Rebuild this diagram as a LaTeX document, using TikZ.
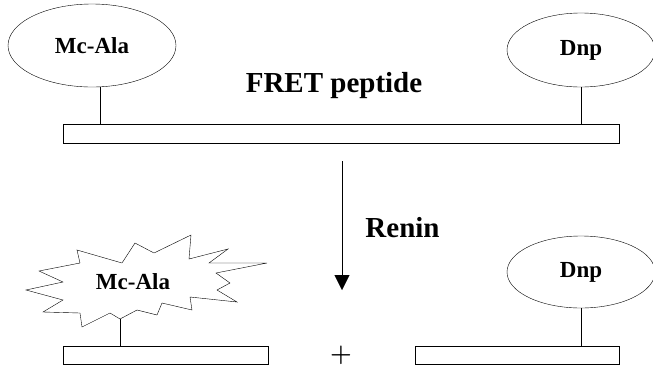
\documentclass[tikz,border=0pt]{standalone}
\usepackage{fontspec}
\setmainfont{Liberation Serif}
\usepackage{tikz}
\usetikzlibrary{shapes.geometric,arrows.meta}
\tikzset{x=1pt, y=-1pt, line width=1.2pt,
  txt/.style={font=\fontsize{23}{23}\selectfont\bfseries},
  group/.style={txt, draw, ellipse, inner sep=0pt},
  chain/.style={draw, rectangle, inner sep=0pt},
  title/.style={font=\fontsize{29}{29}\selectfont\bfseries, anchor=base}}

\begin{document}
\begin{tikzpicture}
                \useasboundingbox (0,0) rectangle (653,365);
                % intact peptide
                \node (MA) [group, minimum width=168pt, minimum height=83pt] at (92,45.5) {Mc-Ala};
                \node (DA) [group, minimum width=148pt, minimum height=74pt] at (581,50) {Dnp};
                \node (PA) [chain, minimum width=556pt, minimum height=19pt] at (341,133.5) {};
                \draw ([xshift=8pt]MA.south) -- ([xshift=8pt]MA.south |- PA.north);
                \draw (DA.south) -- (DA.south |- PA.north);
                \node (F) [title] at (334,92) {FRET peptide};
                % cleavage
                \coordinate (S) at (342,161);
                \coordinate (E) at (342,290);
                \draw[-{Triangle[width=15pt,length=15pt]}] (S) -- (E);
                \node (R) [title] at (402.5,237) {Renin};
                % fragments
                \coordinate (BS) at (120,319);
                \draw (26,290) -- (63,282) -- (39,271) -- (80,263) -- (77,250) -- (122,263)
                  -- (135,243) -- (154,253) -- (191,235) -- (189,259) -- (228,249) -- (209,263)
                  -- (267,263) -- (216,273) -- (230,283) -- (217,290) -- (237,302) -- (190,297)
                  -- (192,310) -- (162,303) -- (157,315) -- (137,310) -- (BS) -- (110,313)
                  -- (82,327) -- (80,313) -- (43,312) -- (63,300) -- cycle;
                \node (MB) [txt] at (133,282) {Mc-Ala};
                \node (PB) [chain, minimum width=205pt, minimum height=18pt] at (165.5,355) {};
                \draw (BS) -- (BS |- PB.north);
                \node (DB) [group, minimum width=148pt, minimum height=72pt] at (581,272) {Dnp};
                \node (PC) [chain, minimum width=204pt, minimum height=18pt] at (517,355) {};
                \draw (DB.south) -- (DB.south |- PC.north);
                \node (plus) [font=\fontsize{23}{23}\selectfont\boldmath, inner sep=0pt] at (341,355) {$+$};
              \end{tikzpicture}
\end{document}
